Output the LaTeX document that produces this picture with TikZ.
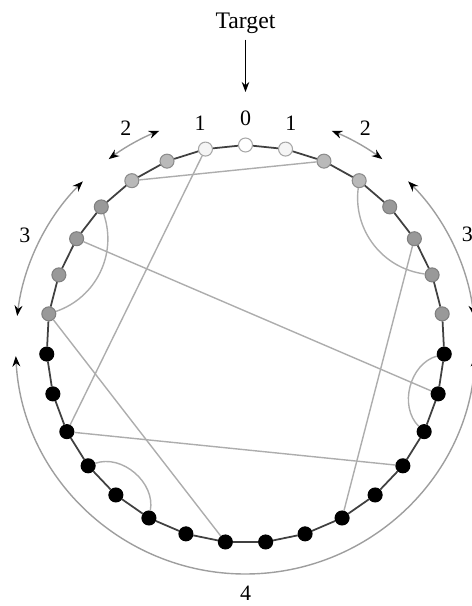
\documentclass[tikz,border=0pt]{standalone}
\usepackage{fontspec}
\setmainfont{Liberation Serif}
\usetikzlibrary{arrows.meta,positioning}
\definecolor{ringline}{gray}{0.25}
\definecolor{chordgray}{gray}{0.68}
\definecolor{arcgray}{gray}{0.62}
\tikzset{
  hop0/.style={draw=gray!70,fill=white,circle,minimum size=2.8mm,inner sep=0pt,line width=0.6pt},
  hop1/.style={hop0,fill=gray!8},
  hop2/.style={hop0,draw=gray!90,fill=gray!55},
  hop3/.style={hop0,draw=gray,fill=gray!80},
  hop4/.style={hop0,draw=black,fill=black},
  ring/.style={draw=ringline,line width=1pt},
  link/.style={draw=chordgray,line width=0.8pt},
  span/.style={draw=arcgray,line width=0.8pt,arrows={Stealth[black,length=6pt,width=4.5pt]-Stealth[black,length=6pt,width=4.5pt]}},
  hoplabel/.style={font=\fontsize{12.5}{14}\selectfont,inner sep=0pt}
}
\begin{document}
\begin{tikzpicture}[>=Stealth]
  \useasboundingbox (-4.91,-5.24) rectangle (4.53,6.88);
  \clip (-4.91,-5.24) rectangle (4.53,6.88);

  % ring of peers, numbered outwards from the target
  \node[hop0] (c0) at (90:3.98) {};
  \node[hop1] (l1) at (101.61:3.98) {};
  \node[hop2] (l2) at (113.23:3.98) {};
  \node[hop2] (l3) at (124.84:3.98) {};
  \node[hop3] (l4) at (136.45:3.98) {};
  \node[hop3] (l5) at (148.06:3.98) {};
  \node[hop3] (l6) at (159.68:3.98) {};
  \node[hop3] (l7) at (171.29:3.98) {};
  \node[hop4] (l8) at (182.90:3.98) {};
  \node[hop4] (l9) at (194.52:3.98) {};
  \node[hop4] (l10) at (206.13:3.98) {};
  \node[hop4] (l11) at (217.74:3.98) {};
  \node[hop4] (l12) at (229.35:3.98) {};
  \node[hop4] (l13) at (240.97:3.98) {};
  \node[hop4] (l14) at (252.58:3.98) {};
  \node[hop4] (l15) at (264.19:3.98) {};
  \node[hop1] (r1) at (78.39:3.98) {};
  \node[hop2] (r2) at (66.77:3.98) {};
  \node[hop2] (r3) at (55.16:3.98) {};
  \node[hop3] (r4) at (43.55:3.98) {};
  \node[hop3] (r5) at (31.94:3.98) {};
  \node[hop3] (r6) at (20.32:3.98) {};
  \node[hop3] (r7) at (8.71:3.98) {};
  \node[hop4] (r8) at (-2.90:3.98) {};
  \node[hop4] (r9) at (-14.52:3.98) {};
  \node[hop4] (r10) at (-26.13:3.98) {};
  \node[hop4] (r11) at (-37.74:3.98) {};
  \node[hop4] (r12) at (-49.35:3.98) {};
  \node[hop4] (r13) at (-60.97:3.98) {};
  \node[hop4] (r14) at (-72.58:3.98) {};
  \node[hop4] (r15) at (-84.19:3.98) {};

  \draw[ring] (c0) -- (l1) -- (l2) -- (l3) -- (l4) -- (l5) -- (l6) -- (l7) -- (l8)
    -- (l9) -- (l10) -- (l11) -- (l12) -- (l13) -- (l14) -- (l15) -- (r15) -- (r14)
    -- (r13) -- (r12) -- (r11) -- (r10) -- (r9) -- (r8) -- (r7) -- (r6) -- (r5)
    -- (r4) -- (r3) -- (r2) -- (r1) -- (c0);

  % long-range links
  \draw[link] (l1) -- (l10);
  \draw[link] (l3) -- (r2);
  \draw[link] (l5) -- (r9);
  \draw[link] (l7) -- (l15);
  \draw[link] (l10) -- (r11);
  \draw[link] (r5) -- (r13);
  \draw[link] (l4) to[bend left=45] (l7);
  \draw[link] (r3) to[bend right=45] (r6);
  \draw[link] (r8) to[bend right=60] (r10);
  \draw[link] (l11) to[bend left=60] (l13);

  % hop distances
  \draw[span] (112:4.6) arc[start angle=112,end angle=126.5,radius=4.6];
  \draw[span] (68:4.6) arc[start angle=68,end angle=53.5,radius=4.6];
  \draw[span] (135:4.6) arc[start angle=135,end angle=173,radius=4.6];
  \draw[span] (45:4.6) arc[start angle=45,end angle=7,radius=4.6];
  \draw[span] (183:4.6) arc[start angle=183,end angle=357,radius=4.6];

  \node[hoplabel] (d0) at (90:4.52) {0};
  \node[hoplabel] (d1l) at (101.6:4.51) {1};
  \node[hoplabel] (d1r) at (78.4:4.51) {1};
  \node[hoplabel] (d2l) at (119:4.94) {2};
  \node[hoplabel] (d2r) at (61:4.94) {2};
  \node[hoplabel] (d3l) at (153.7:4.92) {3};
  \node[hoplabel] (d3r) at (26.3:4.95) {3};
  \node[hoplabel] (d4) at (270:4.99) {4};

  \node[font=\fontsize{13.5}{15}\selectfont] (tgt) at (0,6.42) {Target};
  \coordinate (tip) at (0,5.04);
  \draw[->,line width=0.6pt] (tgt) -- (tip);
\end{tikzpicture}
\end{document}
